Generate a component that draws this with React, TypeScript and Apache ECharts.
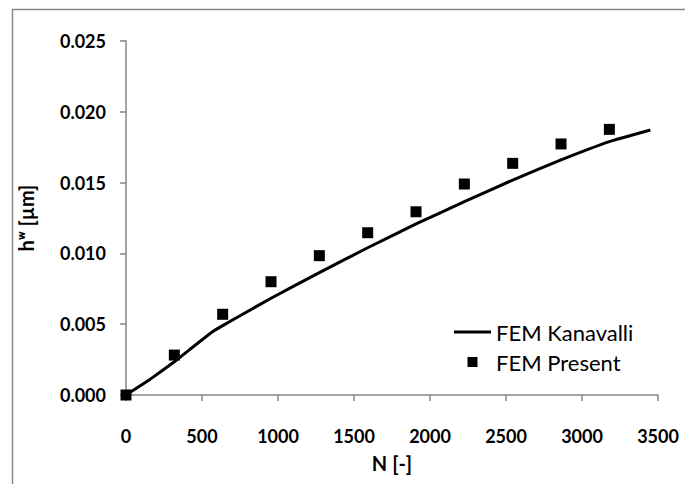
import React, { useEffect, useRef } from "react";
import * as echarts from "echarts";

const presentN = [0, 318, 636, 954, 1272, 1590, 1908, 2226, 2544, 2862, 3180];
const presentH = [0, 0.00282, 0.0057, 0.008, 0.00984, 0.01146, 0.01294, 0.0149, 0.01636, 0.01773, 0.01876];

const kanavalliN = [0, 160, 318, 465, 560, 636, 800, 954, 1272, 1590, 1908, 2226, 2544, 2862, 3180, 3450];
const kanavalliH = [0, 0.00112, 0.00235, 0.0036, 0.0044, 0.0049, 0.0059, 0.00683, 0.00864, 0.0104, 0.01208, 0.01365, 0.01518, 0.0166, 0.01789, 0.01871];

const seriesNames = ["FEM Kanavalli", "FEM Present"];
const xTitle = "N [-]";
const yTitle = "hʷ [µm]";

const FONT = "Lato, 'DejaVu Sans', sans-serif";
const GRAY = "#868686";

export default function App() {
  const ref = useRef<HTMLDivElement>(null);
  useEffect(() => {
    if (!ref.current) return;
    const chart = echarts.init(ref.current, null, { renderer: "svg" });
    chart.setOption({
      animation: false,
      backgroundColor: "#ffffff",
      graphic: [
        {
          type: "rect",
          shape: { x: 12.5, y: 9.5, width: 800, height: 600 },
          style: { fill: "none", stroke: GRAY, lineWidth: 1.5 },
          silent: true,
        },
      ],
      grid: { left: 126, right: 27, top: 41, bottom: 89, containLabel: false },
      xAxis: {
        type: "value",
        min: 0,
        max: 3500,
        interval: 500,
        name: xTitle,
        nameLocation: "middle",
        nameGap: 58,
        nameTextStyle: { fontFamily: FONT, fontWeight: "bold", fontSize: 20, color: "#000" },
        axisLine: { show: true, onZero: false, lineStyle: { color: GRAY, width: 1.5 } },
        axisTick: { show: true, length: 6, lineStyle: { color: GRAY, width: 1.5 } },
        splitLine: { show: false },
        axisLabel: {
          margin: 32,
          fontFamily: FONT,
          fontWeight: "bold",
          fontSize: 18,
          color: "#000",
          formatter: (v: number) => String(v),
        },
      },
      yAxis: {
        type: "value",
        min: 0,
        max: 0.025,
        interval: 0.005,
        name: yTitle,
        nameLocation: "middle",
        nameGap: 90,
        nameRotate: 90,
        nameTextStyle: { fontFamily: FONT, fontWeight: "bold", fontSize: 20, color: "#000" },
        axisLine: { show: true, lineStyle: { color: GRAY, width: 1.5 } },
        axisTick: { show: true, length: 6, lineStyle: { color: GRAY, width: 1.5 } },
        splitLine: { show: false },
        axisLabel: {
          margin: 20,
          fontFamily: FONT,
          fontWeight: "bold",
          fontSize: 18,
          color: "#000",
          formatter: (v: number) => v.toFixed(3),
        },
      },
      legend: {
        left: 449,
        top: 316,
        orient: "vertical",
        itemWidth: 37,
        itemHeight: 10,
        itemGap: 8,
        textStyle: { fontFamily: FONT, fontSize: 22, color: "#000", lineHeight: 22 },
        data: [
          { name: seriesNames[0], icon: "path://M0,0h37v3h-37z" },
          { name: seriesNames[1], icon: "path://M0,0h10v10h-10z" },
        ],
      },
      series: [
        {
          name: seriesNames[0],
          type: "line",
          data: kanavalliN.map((n, i) => [n, kanavalliH[i]]),
          showSymbol: false,
          symbol: "none",
          smooth: 0.1,
          lineStyle: { color: "#000", width: 3 },
          itemStyle: { color: "#000" },
          z: 2,
        },
        {
          name: seriesNames[1],
          type: "scatter",
          data: presentN.map((n, i) => [n, presentH[i]]),
          symbol: "rect",
          symbolSize: 11,
          itemStyle: { color: "#000", opacity: 1 },
          z: 3,
        },
      ],
    });
    return () => chart.dispose();
  }, []);
  return (
    <div
      ref={ref}
      style={{ position: "fixed", left: 0, top: 0, width: 685, height: 484, background: "#fff" }}
    />
  );
}
